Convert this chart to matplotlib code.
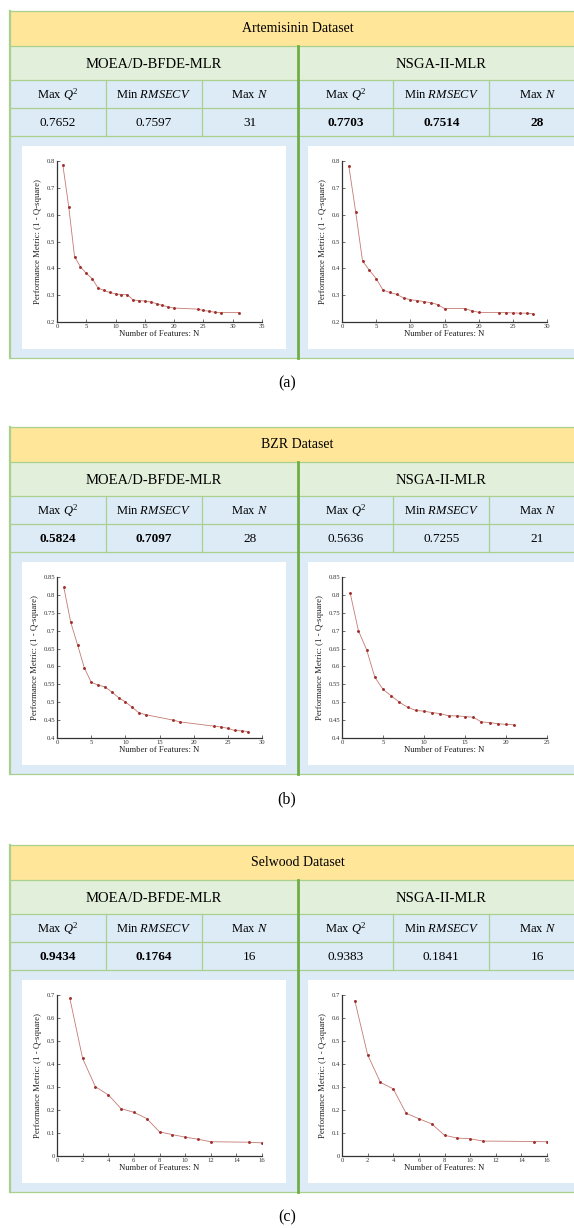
import numpy as np
import matplotlib
matplotlib.use("Agg")
import matplotlib.pyplot as plt
from matplotlib.patches import Rectangle
from matplotlib.ticker import FuncFormatter

plt.rcParams["font.family"] = ["Liberation Serif", "DejaVu Serif"]
plt.rcParams["mathtext.fontset"] = "custom"
plt.rcParams["mathtext.rm"] = "Liberation Serif"
plt.rcParams["mathtext.it"] = "Liberation Serif:italic"

W, H = 574, 1228

# ─── Table text ──────────────────────────────────────────────────────────────
DATASETS = ["Artemisinin Dataset", "BZR Dataset", "Selwood Dataset"]
METHODS  = ["MOEA/D-BFDE-MLR", "NSGA-II-MLR"]
HEADERS  = ["Max $Q^2$", "Min $RMSECV$", "Max $N$"]
CAPTIONS = ["(a)", "(b)", "(c)"]

ART_VALUES = [["0.7652", "0.7597", "31"], ["0.7703", "0.7514", "28"]]
BZR_VALUES = [["0.5824", "0.7097", "28"], ["0.5636", "0.7255", "21"]]
SEL_VALUES = [["0.9434", "0.1764", "16"], ["0.9383", "0.1841", "16"]]
ART_BOLD = [[False, False, False], [True, True, True]]
BZR_BOLD = [[True, True, False], [False, False, False]]
SEL_BOLD = [[True, True, False], [False, False, False]]

# ─── Curves: number of features vs (1 - Q^2) ─────────────────────────────────
ART_MOEA_N = [1, 2, 3, 4, 5, 6, 7, 8, 9, 10, 11, 12, 13, 14, 15, 16, 17, 18, 19, 20,
              24, 25, 26, 27, 28, 31]
ART_MOEA_Y = [0.785, 0.630, 0.443, 0.406, 0.381, 0.362, 0.327, 0.318, 0.310, 0.305,
              0.302, 0.302, 0.282, 0.280, 0.278, 0.275, 0.268, 0.262, 0.256, 0.252,
              0.248, 0.243, 0.240, 0.236, 0.235, 0.235]
ART_NSGA_N = [1, 2, 3, 4, 5, 6, 7, 8, 9, 10, 11, 12, 13, 14, 15, 18, 19, 20,
              23, 24, 25, 26, 27, 28]
ART_NSGA_Y = [0.781, 0.611, 0.428, 0.393, 0.362, 0.319, 0.310, 0.303, 0.290, 0.283,
              0.280, 0.276, 0.272, 0.265, 0.250, 0.250, 0.242, 0.236,
              0.235, 0.235, 0.234, 0.233, 0.233, 0.231]

BZR_MOEA_N = [1, 2, 3, 4, 5, 6, 7, 8, 9, 10, 11, 12, 13, 17, 18, 23, 24, 25, 26, 27, 28]
BZR_MOEA_Y = [0.821, 0.724, 0.661, 0.596, 0.556, 0.548, 0.543, 0.529, 0.513, 0.501,
              0.486, 0.470, 0.465, 0.450, 0.445, 0.433, 0.431, 0.427, 0.421, 0.420, 0.418]
BZR_NSGA_N = [1, 2, 3, 4, 5, 6, 7, 8, 9, 10, 11, 12, 13, 14, 15, 16, 17, 18, 19, 20, 21]
BZR_NSGA_Y = [0.805, 0.700, 0.647, 0.570, 0.536, 0.518, 0.500, 0.486, 0.477, 0.475,
              0.471, 0.468, 0.462, 0.462, 0.460, 0.458, 0.445, 0.443, 0.440, 0.438, 0.437]

SEL_MOEA_N = [1, 2, 3, 4, 5, 6, 7, 8, 9, 10, 11, 12, 15, 16]
SEL_MOEA_Y = [0.686, 0.424, 0.301, 0.266, 0.206, 0.190, 0.163, 0.105, 0.093, 0.082,
              0.073, 0.062, 0.060, 0.057]
SEL_NSGA_N = [1, 2, 3, 4, 5, 6, 7, 8, 9, 10, 11, 15, 16]
SEL_NSGA_Y = [0.676, 0.440, 0.320, 0.292, 0.186, 0.162, 0.140, 0.090, 0.078, 0.075,
              0.065, 0.063, 0.062]

# ─── Colours ─────────────────────────────────────────────────────────────────
YELLOW  = "#FFE699"
GREEN   = "#E2EFDA"
BLUE    = "#DDEBF7"
BORDER  = "#A9D08E"
DIVIDER = "#70AD47"
LINE_C  = "#c47a74"
DOT_C   = "#a0302c"

PANELS = [
    dict(top=11,  values=ART_VALUES, bold=ART_BOLD,
         curves=[(ART_MOEA_N, ART_MOEA_Y), (ART_NSGA_N, ART_NSGA_Y)],
         xlim=[(0, 35), (0, 30)], xstep=5, ylim=(0.2, 0.8), ystep=0.1),
    dict(top=427, values=BZR_VALUES, bold=BZR_BOLD,
         curves=[(BZR_MOEA_N, BZR_MOEA_Y), (BZR_NSGA_N, BZR_NSGA_Y)],
         xlim=[(0, 30), (0, 25)], xstep=5, ylim=(0.4, 0.85), ystep=0.05),
    dict(top=845, values=SEL_VALUES, bold=SEL_BOLD,
         curves=[(SEL_MOEA_N, SEL_MOEA_Y), (SEL_NSGA_N, SEL_NSGA_Y)],
         xlim=[(0, 16), (0, 16)], xstep=2, ylim=(0.0, 0.7), ystep=0.1),
]

X_LEFT, X_MID, X_RIGHT = 10, 297.5, 585
COL_W = (X_MID - X_LEFT) / 3


def px_axes(fig, x0, y0, x1, y1):
    return fig.add_axes([x0 / W, 1 - y1 / H, (x1 - x0) / W, (y1 - y0) / H])


def fmt_tick(v, _):
    return "%g" % np.round(v, 3)


fig = plt.figure(figsize=(W / 100, H / 100), dpi=100)
bg = fig.add_axes([0, 0, 1, 1])
bg.set_xlim(0, W); bg.set_ylim(H, 0); bg.axis("off")

for k, p in enumerate(PANELS):
    y0 = p["top"]
    r_yel, r_grn, r_hdr, r_val, r_plot, r_end = y0, y0 + 35, y0 + 69, y0 + 97, y0 + 125, y0 + 347

    bg.add_patch(Rectangle((X_LEFT, r_yel), X_RIGHT - X_LEFT, r_grn - r_yel, fc=YELLOW, ec="none"))
    bg.add_patch(Rectangle((X_LEFT, r_grn), X_RIGHT - X_LEFT, r_hdr - r_grn, fc=GREEN, ec="none"))
    bg.add_patch(Rectangle((X_LEFT, r_hdr), X_RIGHT - X_LEFT, r_end - r_hdr, fc=BLUE, ec="none"))

    # light green grid lines
    for yy in [r_yel, r_grn, r_hdr, r_val, r_plot, r_end]:
        bg.plot([X_LEFT, X_RIGHT], [yy, yy], color=BORDER, lw=0.9)
    bg.plot([X_LEFT, X_LEFT], [r_yel, r_end], color=BORDER, lw=1.6)
    for half in range(2):
        xs = X_LEFT + half * (X_MID - X_LEFT)
        for c in (1, 2):
            xc = xs + c * COL_W
            bg.plot([xc, xc], [r_hdr, r_plot], color=BORDER, lw=0.9)
    bg.plot([X_MID, X_MID], [r_grn, r_end], color=DIVIDER, lw=2.0)

    bg.text(X_MID, (r_yel + r_grn) / 2, DATASETS[k], ha="center", va="center", fontsize=10)
    for half in range(2):
        xs = X_LEFT + half * (X_MID - X_LEFT)
        bg.text(xs + (X_MID - X_LEFT) / 2, (r_grn + r_hdr) / 2 + 1, METHODS[half],
                ha="center", va="center", fontsize=10.5)
        for c in range(3):
            xc = xs + (c + 0.5) * COL_W
            bg.text(xc, (r_hdr + r_val) / 2 + 1, HEADERS[c], ha="center", va="center", fontsize=9)
            bg.text(xc, (r_val + r_plot) / 2 + 1, p["values"][half][c], ha="center", va="center",
                    fontsize=9.5, fontweight="bold" if p["bold"][half][c] else "normal")

    # white plot backgrounds
    bg.add_patch(Rectangle((22, y0 + 135), 286 - 22, 203, fc="white", ec="none"))
    bg.add_patch(Rectangle((308, y0 + 135), 580 - 308, 203, fc="white", ec="none"))

    bg.text(287, y0 + 372, CAPTIONS[k], ha="center", va="center", fontsize=11.5)

    for half in range(2):
        ax0 = 57 if half == 0 else 342
        ax = px_axes(fig, ax0, y0 + 150, ax0 + 205, y0 + 311)
        n, v = p["curves"][half]
        ax.plot(n, v, color=LINE_C, lw=0.6, zorder=2)
        ax.plot(n, v, ls="none", marker="o", ms=1.1, mfc=DOT_C, mec=DOT_C, zorder=3)
        ax.set_xlim(*p["xlim"][half])
        ax.set_ylim(*p["ylim"])
        ax.set_xticks(np.arange(p["xlim"][half][0], p["xlim"][half][1] + 0.01, p["xstep"]))
        ax.set_yticks(np.arange(p["ylim"][0], p["ylim"][1] + 1e-6, p["ystep"]))
        ax.xaxis.set_major_formatter(FuncFormatter(fmt_tick))
        ax.yaxis.set_major_formatter(FuncFormatter(fmt_tick))
        ax.spines["top"].set_visible(False)
        ax.spines["right"].set_visible(False)
        for s in ("left", "bottom"):
            ax.spines[s].set_color("#333333")
            ax.spines[s].set_linewidth(0.9)
        ax.tick_params(direction="in", length=2, width=0.5, labelsize=4.8,
                       colors="#333333", pad=1.5)
        ax.set_facecolor("white")
        ax.set_xlabel("Number of Features: N", fontsize=6.2, labelpad=0.5, color="#222222")
        ax.set_ylabel("Performance Metric: (1 - Q-square)", fontsize=6.3, labelpad=3, color="#222222")

fig.savefig("out.png", dpi=100, facecolor="white")
